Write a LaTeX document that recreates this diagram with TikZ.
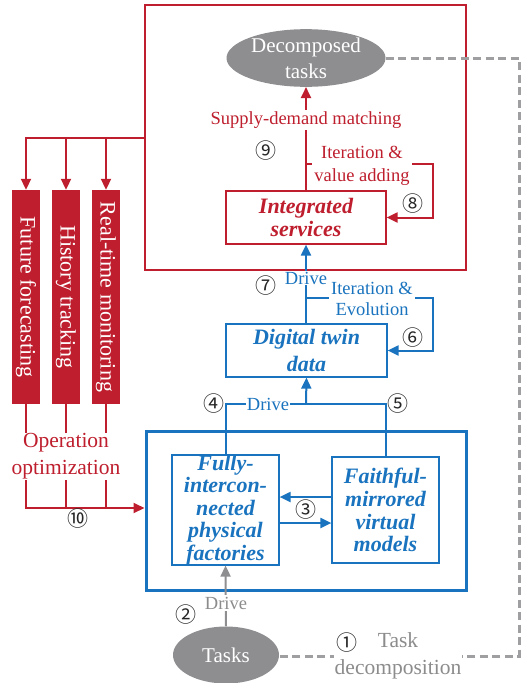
\documentclass[tikz,border=0pt]{standalone}
\usepackage{fontspec}
\setmainfont{Liberation Serif}
\newfontfamily\circfont{Noto Sans CJK SC}
\usetikzlibrary{arrows.meta,shapes.geometric}
\definecolor{cred}{RGB}{190,30,45}
\definecolor{cblue}{RGB}{25,115,190}
\definecolor{cgray}{RGB}{142,142,145}
\definecolor{tgray}{RGB}{140,140,140}
\begin{document}
\begin{tikzpicture}[x=1pt,y=-1pt,
  font=\fontsize{18.5}{21}\selectfont,
  tip/.style={-{Triangle[length=11pt,width=10pt]}},
  redln/.style={draw=cred,line width=2pt},
  blueln/.style={draw=cblue,line width=2pt},
  grayln/.style={draw=cgray,line width=2pt},
  bigframe/.style={draw,line width=2.6pt,inner sep=0pt},
  boxtxt/.style={line width=1.2pt,align=center,inner sep=0pt,
     font=\fontsize{22}{23}\selectfont\bfseries\itshape},
  lbl/.style={fill=white,align=center,inner sep=2pt},
  circ/.style={font=\circfont\fontsize{21}{21}\selectfont,text=black!85,inner sep=0pt},
  ell/.style={ellipse,fill=cgray,text=white,inner sep=0pt,align=center,
     font=\fontsize{21}{26}\selectfont},
  bar/.style={fill=cred,text=white,inner sep=0pt,minimum width=28pt,minimum height=214pt,
     font=\fontsize{22}{22}\selectfont},
  dashln/.style={draw=cgray!85,line width=3pt,dash pattern=on 8pt off 4.5pt}
]
\useasboundingbox (0,0) rectangle (520,683);

% red frame and top part
\node[bigframe,draw=cred,minimum width=321pt,minimum height=265pt] (rframe) at (305.5,137.5) {};
\node[ell,minimum width=159pt,minimum height=53pt] (decomp) at (306,58) {Decomposed\\tasks};
\node[boxtxt,draw=cred,text=cred,minimum width=160pt,minimum height=53pt] (integ) at (306,217.5) {Integrated\\services};

\draw[redln,tip] (integ.north) -- (decomp.south);
\node[lbl,text=cred] (sdm) at (306,120) {Supply-demand matching};
\node[circ] (n9) at (266,151) {⑨};

\coordinate (l8a) at (306,164);
\coordinate (l8b) at (433,164);
\draw[redln,tip] (l8a) -- (l8b) |- (integ.east);
\node[lbl,text=cred,font=\fontsize{18.5}{23}\selectfont] (ivl) at (362,166) {Iteration \&\\value adding};
\node[circ] (n8) at (413,204) {⑧};

% digital twin
\node[boxtxt,draw=cblue,text=cblue,minimum width=161pt,minimum height=53pt,
  font=\fontsize{22}{27}\selectfont\bfseries\itshape] (dt) at (306.5,350.5) {Digital twin\\data};
\draw[blueln,tip] (dt.north -| integ.south) -- (integ.south);
\node[lbl,text=cblue,inner sep=1pt] (drv7) at (306,278) {Drive};
\node[circ] (n7) at (266,286) {⑦};

\coordinate (l6a) at (306,298);
\coordinate (l6b) at (433,298);
\draw[blueln,tip] (l6a) -- (l6b) |- (dt.east);
\node[lbl,text=cblue,font=\fontsize{18.5}{21}\selectfont] (ie) at (372,298.5) {Iteration \&\\Evolution};
\node[circ] (n6) at (413,338) {⑥};

% blue frame
\node[bigframe,draw=cblue,line width=3pt,minimum width=320pt,minimum height=159pt] (bframe) at (306,510.5) {};
\node[boxtxt,draw=cblue,text=cblue,minimum width=107pt,minimum height=106pt,
  font=\fontsize{22}{22.5}\selectfont\bfseries\itshape] (fpf) at (225.5,510) {Fully-\\intercon-\\nected\\physical\\factories};
\node[boxtxt,draw=cblue,text=cblue,minimum width=107pt,minimum height=106pt,
  font=\fontsize{22}{22.8}\selectfont\bfseries\itshape] (fmv) at (385.5,510) {Faithful-\\mirrored\\virtual\\models};

\coordinate (hb) at (306,404);
\draw[blueln] (fpf.north) -- (fpf.north |- hb) -- (fmv.north |- hb) -- (fmv.north);
\draw[blueln,tip] (hb) -- (dt.south);
\node[lbl,text=cblue,inner sep=1pt] (drv4) at (268,404) {Drive};
\node[circ] (n4) at (214,404) {④};
\node[circ] (n5) at (398,404) {⑤};

\draw[blueln,tip] ([yshift=13pt]fmv.west) -- ([yshift=13pt]fpf.east);
\draw[blueln,tip] ([yshift=-13pt]fpf.east) -- ([yshift=-13pt]fmv.west);
\node[circ] (n3) at (306,510) {③};

% tasks
\node[ell,minimum width=106pt,minimum height=57pt] (tasks) at (226,655) {Tasks};
\draw[grayln,tip] (tasks.north) -- (fpf.south);
\node[lbl,text=tgray,inner sep=1.5pt] (drv2) at (226,603) {Drive};
\node[circ] (n2) at (186,615) {②};

\coordinate (dc1) at (519,58);
\coordinate (dc2) at (519,656);
\draw[dashln] (decomp.east) -- (dc1) -- (dc2) -- (tasks.east |- dc2);
\node[lbl,text=tgray,font=\fontsize{21.5}{27}\selectfont,inner sep=1pt] (tdc) at (398,656) {Task\\decomposition};
\node[circ] (n1) at (347,643) {①};

% left bars
\node[bar] (ff) at (26,297) {\rotatebox{-90}{Future forecasting}};
\node[bar] (ht) at (66,297) {\rotatebox{-90}{History tracking}};
\node[bar] (rtm) at (106,297) {\rotatebox{-90}{Real-time monitoring}};

\coordinate (rt) at (145,138);
\draw[redln,tip] (rt) -| (ff.north);
\draw[redln,tip] (ht.north |- rt) -- (ht.north);
\draw[redln,tip] (rtm.north |- rt) -- (rtm.north);

\coordinate (ob) at (26,508);
\draw[redln,tip] (ff.south) -- (ob) -- (bframe.west |- ob);
\draw[redln] (ht.south) -- (ht.south |- ob);
\draw[redln] (rtm.south) -- (rtm.south |- ob);
\node[lbl,text=cred,font=\fontsize{21.5}{27}\selectfont,inner sep=1pt] (oo) at (66,456.5) {Operation\\optimization};
\node[circ] (n10) at (78,519) {⑩};
\end{tikzpicture}
\end{document}
